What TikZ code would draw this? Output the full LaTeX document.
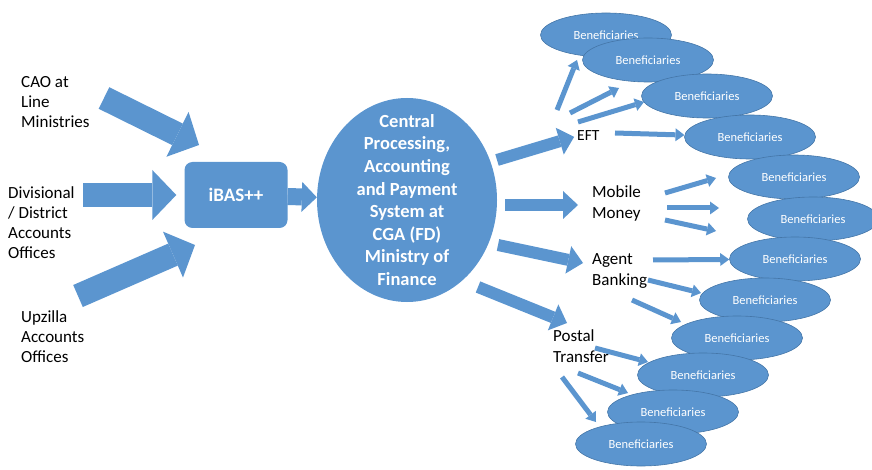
\documentclass[tikz,border=0pt]{standalone}
\usepackage{fontspec}
\setmainfont{Carlito}
\usetikzlibrary{shapes.geometric, arrows.meta, positioning}

\definecolor{flowblue}{RGB}{91,149,207}
\definecolor{edgeblue}{RGB}{68,118,168}

\tikzset{
  bigarrow/.style={flowblue, line width=24pt, -{Triangle[length=24pt, width=50pt, line width=0pt]}},
  midarrow/.style={flowblue, line width=12pt, -{Triangle[length=15pt, width=28pt, line width=0pt]}},
  thinarrow/.style={flowblue, line width=5pt, -{Triangle[length=9pt, width=13pt, line width=0pt]}},
  source/.style={align=left, anchor=west, inner sep=0pt, font=\fontsize{17}{20}\selectfont},
  channel/.style={align=left, anchor=west, inner sep=0pt, font=\fontsize{17}{21}\selectfont},
  benef/.style={ellipse, fill=flowblue, draw=edgeblue, line width=0.6pt, minimum width=131pt,
    minimum height=44pt, inner sep=0pt, text=white, font=\fontsize{12.5}{14}\selectfont},
}

\begin{document}
\begin{tikzpicture}[x=1pt, y=-1pt]
  \useasboundingbox (0,0) rectangle (872,470);

  % offices feeding iBAS++
  \node[source] (cao) at (21,102) {CAO at\\Line\\Ministries};
  \node[source] (div) at (8,223) {Divisional\\/ District\\Accounts\\Offices};
  \node[source] (upz) at (21,337) {Upzilla\\Accounts\\Offices};

  \node[fill=flowblue, rounded corners=8pt, minimum width=103pt, minimum height=66pt,
    text=white, font=\bfseries\fontsize{19}{20}\selectfont] (ibas) at (236,195) {iBAS++};

  % central system
  \node[ellipse, fill=flowblue, minimum width=180pt, minimum height=204pt] (cps) at (407,200) {};
  \node[align=center, inner sep=0pt, text=white, font=\bfseries\fontsize{18.5}{22.6}\selectfont]
    (cpstext) at (cps) {Central\\Processing,\\Accounting\\and Payment\\System at\\CGA (FD)\\Ministry of\\Finance};

  % payment channels
  \node[channel, font=\fontsize{15.5}{18}\selectfont] (eft) at (577,136) {EFT};
  \node[channel] (mobile) at (592,203) {Mobile\\Money};
  \node[channel] (agent) at (592,271) {Agent\\Banking};
  \node[channel] (postal) at (553,346) {Postal\\Transfer};

  % beneficiaries, each one on top of the previous
  \foreach \bx/\by [count=\i] in {606/35, 648/60, 707/96, 750/137, 794/177, 813/219,
      795/259, 765/300, 737/338, 703/375, 673/412, 641/444}
    \node[benef] (b\i) at (\bx,\by) {Beneficiaries};

  % arrow ends
  \coordinate (caoT) at (104,98);  \coordinate (caoH) at (199,145);
  \coordinate (divT) at (83,195);
  \coordinate (upzT) at (78,296);  \coordinate (upzH) at (195,245);
  \coordinate (eftT) at (497,160);
  \coordinate (mobT) at (505,205); \coordinate (mobH) at (578,205);
  \coordinate (ageT) at (498,245); \coordinate (ageH) at (583,263);
  \coordinate (posT) at (478,287); \coordinate (posH) at (567,323);

  \draw[bigarrow] (caoT) -- (caoH);
  \draw[bigarrow, shorten >=8pt] (divT) -- (ibas.west);
  \draw[bigarrow] (upzT) -- (upzH);
  \draw[flowblue, line width=17pt, -{Triangle[length=15pt, width=30pt, line width=0pt]}] (ibas) -- (cps);

  \draw[midarrow, shorten >=3pt] (eftT) -- (eft.west);
  \draw[midarrow] (mobT) -- (mobH);
  \draw[midarrow] (ageT) -- (ageH);
  \draw[midarrow] (posT) -- (posH);

  % fan out to beneficiaries
  \coordinate (t1) at (557,110);  \coordinate (h1) at (577,60);
  \coordinate (t2) at (570,113);  \coordinate (h2) at (619,88);
  \coordinate (t3) at (578,122);  \coordinate (h3) at (644,102);
  \coordinate (t4) at (615,133);
  \coordinate (t5) at (665,193);  \coordinate (h5) at (716,178);
  \coordinate (t6) at (667,208);  \coordinate (h6) at (719,208);
  \coordinate (t7) at (665,220);  \coordinate (h7) at (716,231);
  \coordinate (t8) at (653,260);
  \coordinate (t9) at (648,280);  \coordinate (h9) at (701,293);
  \coordinate (t10) at (632,300); \coordinate (h10) at (681,322);
  \coordinate (t11) at (595,348); \coordinate (h11) at (648,362);
  \coordinate (t12) at (578,373); \coordinate (h12) at (628,393);
  \coordinate (t13) at (562,377); \coordinate (h13) at (596,422);

  \draw[thinarrow] (t1) -- (h1);
  \draw[thinarrow] (t2) -- (h2);
  \draw[thinarrow] (t3) -- (h3);
  \draw[thinarrow] (t4) -- (b4);
  \draw[thinarrow] (t5) -- (h5);
  \draw[thinarrow] (t6) -- (h6);
  \draw[thinarrow] (t7) -- (h7);
  \draw[thinarrow] (t8) -- (b7);
  \draw[thinarrow] (t9) -- (h9);
  \draw[thinarrow] (t10) -- (h10);
  \draw[thinarrow] (t11) -- (h11);
  \draw[thinarrow] (t12) -- (h12);
  \draw[thinarrow] (t13) -- (h13);
\end{tikzpicture}
\end{document}
